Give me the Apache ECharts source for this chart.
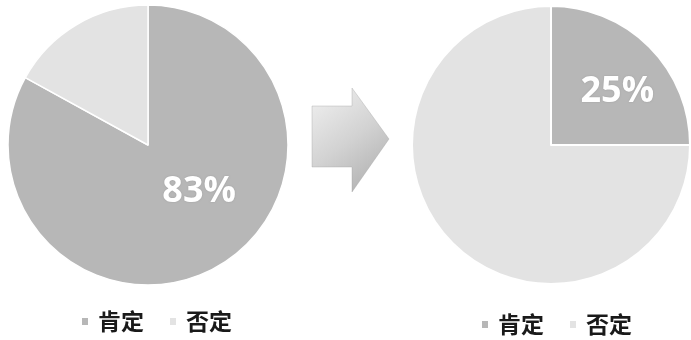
<!DOCTYPE html>
<html>
<head>
<meta charset="utf-8">
<script src="https://cdn.jsdelivr.net/npm/echarts@6/dist/echarts.min.js"></script>
<style>
  html, body { margin: 0; padding: 0; background: #ffffff; }
  #chart { width: 691px; height: 340px; }
</style>
</head>
<body>
<div id="chart"></div>
<script>
// Answer categories and their shares, before and after
const categories = ['肯定', '否定'];
const beforeValues = [83, 17];
const afterValues = [25, 75];
const sliceColors = ['#b7b7b7', '#e3e3e3'];

const chart = echarts.init(document.getElementById('chart'), null, { renderer: 'canvas' });

function pieData(values) {
  return categories.map((name, i) => ({
    name: name,
    value: values[i],
    itemStyle: { color: sliceColors[i] },
    label: { show: i === 0 }
  }));
}

const labelStyle = {
  position: 'inside',
  formatter: '{c}%',
  color: '#ffffff',
  fontFamily: 'Open Sans',
  fontWeight: 'bold',
  fontSize: 36,
  textShadowColor: 'rgba(0,0,0,0.15)',
  textShadowBlur: 2
};

const legendBase = {
  orient: 'horizontal',
  itemWidth: 8,
  itemHeight: 9,
  itemGap: 24,
  icon: 'rect',
  data: categories,
  selectedMode: false,
  textStyle: {
    fontFamily: 'Noto Sans CJK SC',
    fontWeight: 'bold',
    fontSize: 23,
    color: '#1a1a1a',
    padding: [0, 0, 0, 4]
  }
};

chart.setOption({
  backgroundColor: '#ffffff',
  animation: false,
  legend: [
    Object.assign({}, legendBase, { left: 75, top: 305 }),
    Object.assign({}, legendBase, { left: 475, top: 308 })
  ],
  graphic: [{
    type: 'polygon',
    shape: {
      points: [[312, 106], [352, 106], [352, 88], [389, 139], [352, 192], [352, 167], [312, 167]]
    },
    style: {
      fill: new echarts.graphic.LinearGradient(0, 0, 1, 1, [
        { offset: 0, color: '#f2f2f2' },
        { offset: 0.5, color: '#d2d2d2' },
        { offset: 1, color: '#a9a9a9' }
      ]),
      stroke: 'rgba(160,160,160,0.6)',
      lineWidth: 0.6
    }
  }],
  series: [
    {
      type: 'pie',
      center: [148, 145],
      radius: 140,
      startAngle: 90,
      clockwise: true,
      silent: true,
      itemStyle: { borderColor: '#ffffff', borderWidth: 1.5 },
      label: labelStyle,
      labelLine: { show: false },
      labelLayout: { dx: 14, dy: -16 },
      data: pieData(beforeValues)
    },
    {
      type: 'pie',
      center: [551, 145],
      radius: 139,
      startAngle: 90,
      clockwise: true,
      silent: true,
      itemStyle: { borderColor: '#ffffff', borderWidth: 2 },
      label: labelStyle,
      labelLine: { show: false },
      labelLayout: { dx: 15, dy: -2 },
      data: pieData(afterValues)
    }
  ]
});
</script>
</body>
</html>
